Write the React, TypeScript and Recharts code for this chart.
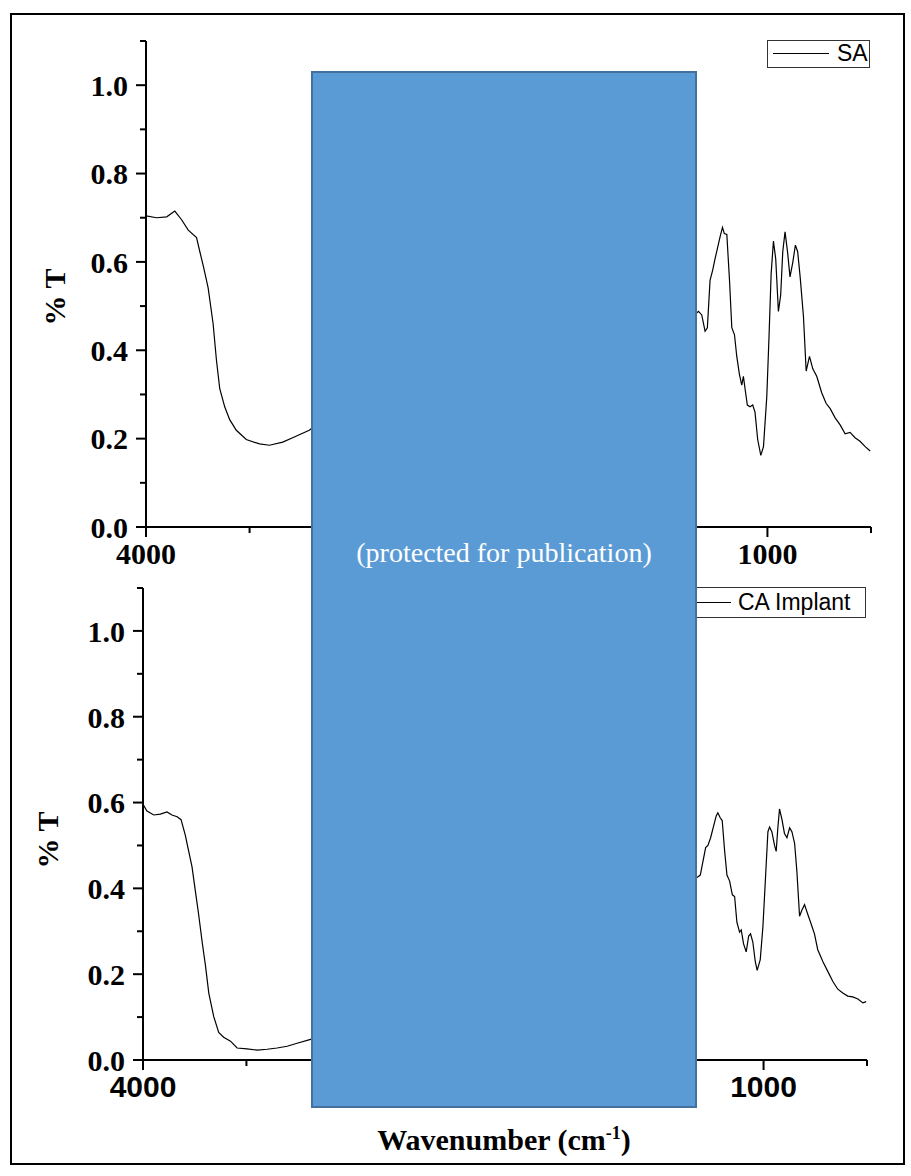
import { LineChart, Line, XAxis, YAxis } from 'recharts';

// SA spectrum (wavenumber cm-1, transmittance)
const SA_WN = [
  4000, 3949, 3900, 3861, 3829, 3796, 3756, 3740, 3721, 3700, 3676, 3660, 3644, 3620, 3596, 3564, 3516, 3452, 3404, 3340, 3292, 3212,
  3100, 3000, 2900, 2700, 2400, 2100, 1900, 1700, 1600, 1500, 1420,
  1333, 1317, 1301, 1290, 1277, 1264, 1253, 1241, 1229, 1217, 1208, 1196, 1183, 1172, 1159, 1148, 1135, 1124, 1116, 1108, 1097, 1084,
  1071, 1060, 1047, 1032, 1019, 1003, 992, 982, 971, 960, 947, 936, 926, 915, 903, 891, 878, 865, 854, 842, 826, 813, 797, 781, 762,
  738, 717, 697, 673, 649, 625, 601, 577, 553, 528, 504,
];
const SA_T = [
  0.704, 0.7, 0.702, 0.715, 0.696, 0.672, 0.655, 0.623, 0.586, 0.541, 0.46, 0.378, 0.313, 0.272, 0.243, 0.219, 0.198, 0.188, 0.185, 0.192, 0.202, 0.219,
  0.26, 0.3, 0.33, 0.4, 0.46, 0.5, 0.5, 0.45, 0.4, 0.42, 0.45,
  0.488, 0.48, 0.443, 0.451, 0.558, 0.582, 0.607, 0.631, 0.656, 0.678, 0.664, 0.662, 0.558, 0.451, 0.435, 0.386, 0.345, 0.321, 0.341, 0.313, 0.276, 0.272,
  0.276, 0.26, 0.198, 0.162, 0.182, 0.296, 0.435, 0.574, 0.647, 0.607, 0.488, 0.525, 0.623, 0.668, 0.623, 0.566, 0.598, 0.638, 0.623, 0.566, 0.476, 0.353, 0.386, 0.358, 0.341,
  0.304, 0.28, 0.268, 0.247, 0.231, 0.211, 0.214, 0.202, 0.194, 0.182, 0.172,
];

// CA Implant spectrum
const CA_WN = [
  4000, 3981, 3948, 3916, 3884, 3860, 3835, 3816, 3795, 3779, 3763, 3747, 3731, 3714, 3698, 3682, 3658, 3634, 3610, 3577, 3545, 3497, 3448, 3400, 3352, 3303, 3255, 3190,
  3100, 3000, 2900, 2600, 2300, 2000, 1800, 1600, 1500, 1400,
  1317, 1306, 1293, 1280, 1269, 1256, 1241, 1229, 1221, 1209, 1200, 1188, 1177, 1164, 1151, 1140, 1129, 1116, 1108, 1097, 1084, 1072, 1063, 1052, 1040, 1031, 1016, 1003,
  990, 979, 971, 960, 947, 939, 931, 923, 911, 899, 887, 874, 863, 850, 839, 826, 815, 802, 786, 770, 754, 738, 713, 689, 665, 641, 617, 593, 569, 544, 520, 504,
];
const CA_T = [
  0.596, 0.58, 0.571, 0.573, 0.578, 0.571, 0.567, 0.56, 0.523, 0.486, 0.45, 0.394, 0.339, 0.275, 0.22, 0.156, 0.101, 0.064, 0.053, 0.044, 0.028, 0.026, 0.023, 0.025, 0.028, 0.032, 0.039, 0.048,
  0.07, 0.1, 0.12, 0.2, 0.3, 0.36, 0.38, 0.35, 0.37, 0.4,
  0.427, 0.431, 0.463, 0.495, 0.5, 0.518, 0.546, 0.569, 0.576, 0.564, 0.558, 0.486, 0.431, 0.417, 0.385, 0.381, 0.321, 0.298, 0.303, 0.271, 0.252, 0.289, 0.294, 0.275, 0.229, 0.209, 0.234, 0.312,
  0.431, 0.532, 0.543, 0.532, 0.5, 0.486, 0.541, 0.585, 0.56, 0.528, 0.518, 0.541, 0.532, 0.505, 0.44, 0.335, 0.349, 0.362, 0.339, 0.317, 0.294, 0.257, 0.229, 0.206, 0.183, 0.165, 0.156, 0.149, 0.147, 0.142, 0.133, 0.136,
];

const Y_MAJOR = [0, 0.2, 0.4, 0.6, 0.8, 1.0];
const Y_MINOR = [0.1, 0.3, 0.5, 0.7, 0.9, 1.1];
const X_MAJOR = [4000, 3000, 2000, 1000];
const X_MINOR = [3500, 2500, 1500, 500];
// only these show in the reference (3000/2000 sit under the cover box)
const X_LABELED = [4000, 1000];

const saData = SA_WN.map((w, i) => ({ w, t: SA_T[i] }));
const caData = CA_WN.map((w, i) => ({ w, t: CA_T[i] }));

const SERIF = '"Times New Roman", "Liberation Serif", serif';
const SANS = 'Arial, "Liberation Sans", sans-serif';

const hasVal = (list: number[], v: number) => list.some(m => Math.abs(m - v) < 1e-6);

function YTick({ x, y, payload }: any) {
  const v = payload.value;
  const major = hasVal(Y_MAJOR, v);
  return (
    <g>
      <line x1={x} x2={x - (major ? 10 : 6)} y1={y} y2={y} stroke="#000" strokeWidth={2} />
      {major && (
        <text x={x - 18} y={y} dy="0.36em" textAnchor="end" fill="#000"
          style={{ fontFamily: SERIF, fontWeight: 'bold', fontSize: 30 }}>
          {v.toFixed(1)}
        </text>
      )}
    </g>
  );
}

const makeXTick = (font: string) => ({ x, y, payload }: any) => {
  const v = payload.value;
  const major = hasVal(X_MAJOR, v);
  return (
    <g>
      <line x1={x} x2={x} y1={y} y2={y + (major ? 10 : 6)} stroke="#000" strokeWidth={2} />
      {hasVal(X_LABELED, v) && (
        <text x={x} y={y + 37} textAnchor="middle" fill="#000"
          style={{ fontFamily: font, fontWeight: 'bold', fontSize: 30 }}>
          {v}
        </text>
      )}
    </g>
  );
};

// legend box drawn as an overlay so it doesn't eat into the plot area
const LegendBox = ({ name, lg }: any) => (
  <div style={{ position: 'absolute', left: lg.left, top: lg.top, width: lg.width, height: lg.height, border: '1.5px solid #333', boxSizing: 'border-box', background: '#fff' }}>
    <div style={{ position: 'absolute', left: lg.lineFrom - lg.left, width: lg.lineTo - lg.lineFrom, top: lg.height / 2 - 2, borderTop: '1px solid #000' }} />
    <span style={{ position: 'absolute', left: lg.textLeft - lg.left, top: 0, lineHeight: `${lg.height - 3}px`, fontFamily: SANS, fontSize: 23, color: '#000' }}>{name}</span>
  </div>
);

function Panel({ data, name, top, height, margin, xFont }: any) {
  return (
    <div style={{ position: 'absolute', left: 0, top }}>
      <LineChart width={911} height={height} data={data} margin={margin}>
        <XAxis dataKey="w" type="number" domain={[500, 4000]} reversed allowDataOverflow
          ticks={[...X_MAJOR, ...X_MINOR].sort((a, b) => b - a)} interval={0}
          tick={makeXTick(xFont)} tickLine={false} tickSize={0} tickMargin={0} height={50}
          axisLine={{ stroke: '#000', strokeWidth: 2 }} />
        <YAxis type="number" domain={[0, 1.1]} allowDataOverflow
          ticks={[...Y_MAJOR, ...Y_MINOR].sort((a, b) => a - b)} interval={0}
          tick={<YTick />} tickLine={false} tickSize={0} tickMargin={0} width={100}
          axisLine={{ stroke: '#000', strokeWidth: 2 }} />
        <Line type="linear" dataKey="t" name={name} stroke="#000" strokeWidth={1.2} dot={false} isAnimationActive={false} />
      </LineChart>
    </div>
  );
}

export default function App() {
  return (
    <div style={{ position: 'absolute', left: 0, top: 0, width: 911, height: 1176, background: '#fff', overflow: 'hidden' }}>
      <div style={{ position: 'absolute', left: 10, top: 13, width: 895, height: 1152, border: '2px solid #000', boxSizing: 'border-box' }} />

      <Panel data={saData} name="SA" top={0} height={580} xFont={SERIF}
        margin={{ top: 41, right: 40, bottom: 3, left: 46 }} />
      <Panel data={caData} name="CA Implant" top={570} height={560} xFont={SANS}
        margin={{ top: 18, right: 44, bottom: 20, left: 43 }} />

      <LegendBox name="SA" lg={{ left: 767, top: 40, width: 103, height: 28, lineFrom: 772, lineTo: 828, textLeft: 836 }} />
      <LegendBox name="CA Implant" lg={{ left: 640, top: 587, width: 226, height: 31, lineFrom: 650, lineTo: 730, textLeft: 737 }} />

      <div style={{ position: 'absolute', left: 55, top: 297, transform: 'translate(-50%, -50%) rotate(-90deg)', fontFamily: SERIF, fontWeight: 'bold', fontSize: 30, whiteSpace: 'nowrap' }}>% T</div>
      <div style={{ position: 'absolute', left: 48, top: 840, transform: 'translate(-50%, -50%) rotate(-90deg)', fontFamily: SERIF, fontWeight: 'bold', fontSize: 30, whiteSpace: 'nowrap' }}>% T</div>

      <div style={{ position: 'absolute', left: 311, top: 71, width: 386, height: 1037, background: '#5B9BD5', border: '2px solid #41719C', boxSizing: 'border-box' }}>
        <div style={{ position: 'absolute', left: 0, right: 0, top: 480, transform: 'translateY(-50%)', textAlign: 'center', color: '#fff', fontFamily: SERIF, fontSize: 28, whiteSpace: 'nowrap' }}>
          (protected for publication)
        </div>
      </div>

      <div style={{ position: 'absolute', left: 0, width: 1008, top: 1140, transform: 'translateY(-50%)', textAlign: 'center', fontFamily: SERIF, fontWeight: 'bold', fontSize: 30, whiteSpace: 'nowrap' }}>
        Wavenumber (cm<sup style={{ fontSize: 18 }}>-1</sup>)
      </div>
    </div>
  );
}
